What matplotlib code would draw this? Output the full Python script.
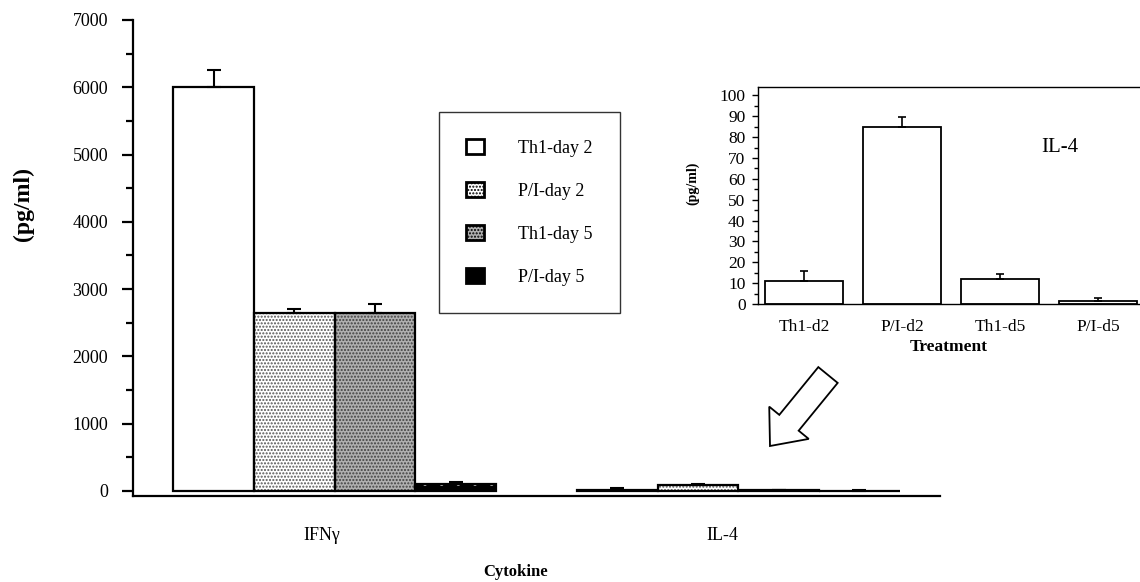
import numpy as np
import matplotlib
matplotlib.use('Agg')
import matplotlib.pyplot as plt
from matplotlib.patches import Patch, FancyArrow
from matplotlib.ticker import MultipleLocator
import matplotlib.transforms as mtransforms

plt.rcParams['font.family'] = ['Liberation Serif', 'DejaVu Serif']
plt.rcParams['hatch.linewidth'] = 1.0

# main chart data
cytokines = ['IFN\u03b3', 'IL-4']
groups = ['Th1-day 2', 'P/I-day 2', 'Th1-day 5', 'P/I-day 5']
ifn_vals = [6000, 2650, 2650, 110]
ifn_err = [250, 60, 130, 20]
il4_vals = [11, 85, 12, 2]
il4_err_main = [40, 15, 8, 8]

# inset data
treatments = ['Th1-d2', 'P/I-d2', 'Th1-d5', 'P/I-d5']
inset_vals = [11, 85, 12, 1.5]
inset_err = [5, 4.5, 2.5, 1.5]

styles = [
    dict(fc='white', hatch=None, hc='black'),
    dict(fc='white', hatch='.....', hc='#555555'),
    dict(fc='#b0b0b0', hatch='.....', hc='#404040'),
    dict(fc='black', hatch='.', hc='white'),
]

W, H = 1140, 582
fig = plt.figure(figsize=(W / 100, H / 100), dpi=100)
ax = fig.add_axes([133/W, 1 - 496/H, (940 - 133)/W, (496 - 20)/H])

x_ifn = np.arange(1, 5)
x_il4 = np.arange(6, 10)
for i, st in enumerate(styles):
    xs = [x_ifn[i], x_il4[i]]
    hs = [ifn_vals[i], il4_vals[i]]
    ax.bar(xs, hs, width=1.0, color=st['fc'], hatch=st['hatch'],
           edgecolor=st['hc'], linewidth=0, zorder=2)
    ax.bar(xs, hs, width=1.0, fill=False, edgecolor='black',
           linewidth=1.6, zorder=3)
    ax.errorbar(xs, hs, yerr=[[0, 0], [ifn_err[i], il4_err_main[i]]],
                fmt='none', ecolor='black', elinewidth=1.5, capsize=5,
                capthick=1.5, zorder=4)

ax.set_xlim(0, 10)
ax.set_ylim(-75, 7000)
ax.spines['top'].set_visible(False)
ax.spines['right'].set_visible(False)
ax.spines['left'].set_linewidth(1.6)
ax.spines['bottom'].set_linewidth(1.6)
ax.set_yticks(np.arange(0, 7001, 1000))
ax.yaxis.set_minor_locator(MultipleLocator(500))
ax.tick_params(axis='y', which='major', direction='out', length=8, width=1.6,
               labelsize=13, pad=10)
ax.tick_params(axis='y', which='minor', direction='out', length=5, width=1.6)
ax.set_xticks([2.34, 7.3])
ax.set_xticklabels(cytokines, fontsize=13)
ax.tick_params(axis='x', length=0, pad=22)

fig.text(23/W, 1 - 204/H, '(pg/ml)', rotation=90, ha='center', va='center',
         fontsize=17, fontweight='bold')
fig.text(516/W, 1 - 572/H, 'Cytokine', ha='center', va='center',
         fontsize=12, fontweight='bold')

# legend
handles = [Patch(facecolor=st['fc'], hatch=st['hatch'], edgecolor='black',
                 linewidth=2.0) for st in styles]
leg = fig.legend(handles, groups, loc='upper left',
                 bbox_to_anchor=(439/W, 1 - 112/H), fontsize=13,
                 frameon=True, fancybox=False, edgecolor='black',
                 handlelength=1.0, handleheight=0.9, handletextpad=1.9,
                 labelspacing=1.4, borderpad=1.5, borderaxespad=0)
leg.get_frame().set_linewidth(1.0)

# inset
ins = fig.add_axes([758/W, 1 - 304/H, (W - 758)/W, (304 - 87)/H])
xi = np.arange(len(treatments))
ins.bar(xi, inset_vals, width=0.8, color='white', edgecolor='black',
        linewidth=1.3, zorder=2)
ins.errorbar(xi, inset_vals, yerr=[np.zeros(4), inset_err], fmt='none',
             ecolor='black', elinewidth=1.2, capsize=3, capthick=1.2, zorder=3)
ins.set_xlim(-0.47, 3.43)
ins.set_ylim(0, 104)
ins.spines['right'].set_visible(False)
for s in ['left', 'top', 'bottom']:
    ins.spines[s].set_linewidth(1.0)
ins.set_yticks(np.arange(0, 101, 10))
ins.yaxis.set_minor_locator(MultipleLocator(5))
ins.tick_params(axis='y', which='major', direction='out', length=4, width=1.0,
                labelsize=12.5, pad=5)
ins.tick_params(axis='y', which='minor', direction='out', length=3, width=1.0)
ins.set_xticks(xi)
ins.set_xticklabels(treatments, fontsize=12.5)
ins.tick_params(axis='x', length=0, pad=11)
ins.set_xlabel('Treatment', fontsize=12.5, fontweight='bold', labelpad=3)
fig.text(693/W, 1 - 183/H, '(pg/ml)', rotation=90, ha='center', va='center',
         fontsize=10, fontweight='bold')
ins.text((1060 - 758)/382, (304 - 148)/217, 'IL-4', transform=ins.transAxes,
         fontsize=15, ha='center', va='center')

# outlined arrow pointing down to the IL-4 bars
arrow = FancyArrow(828, H - 375, -58, -71, width=25, head_width=51,
                   head_length=30, length_includes_head=True,
                   transform=mtransforms.IdentityTransform(),
                   facecolor='white', edgecolor='black', linewidth=1.3)
fig.patches.append(arrow)

fig.savefig('out.png', dpi=100)
